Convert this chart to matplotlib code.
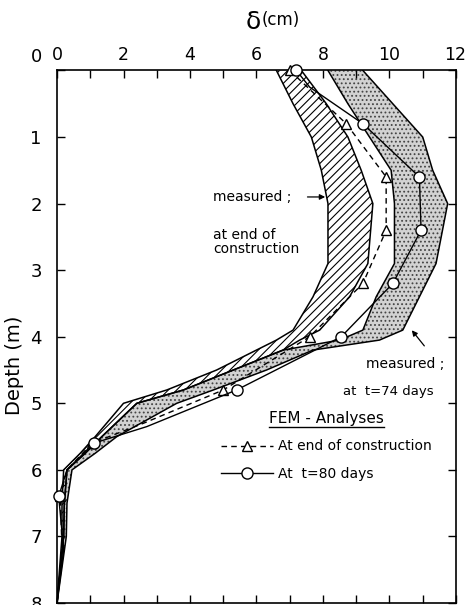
import matplotlib
matplotlib.use("Agg")
import matplotlib.pyplot as plt
from matplotlib.lines import Line2D
from matplotlib.transforms import ScaledTranslation

plt.rcParams['font.family'] = ['DejaVu Sans']
plt.rcParams['hatch.linewidth'] = 0.8

# depth levels (m) for the two measured envelopes
band_depth = [0, 0.5, 1.0, 1.5, 2.0, 2.9, 3.4, 3.9, 4.05, 4.2, 4.5, 4.8, 5.0, 5.5, 5.75, 6.0, 6.5, 7.0, 8.0]

# measured at end of construction (hatched band), min / max deflection (cm)
eoc_min = [6.6, 7.1, 7.65, 7.95, 8.15, 8.15, 7.7, 7.1, 6.6, 6.0, 4.8, 3.3, 2.0, 1.15, 0.7, 0.2, 0.15, 0.15, 0.0]
eoc_max = [7.35, 8.1, 8.75, 9.15, 9.5, 9.35, 8.8, 7.9, 7.3, 6.8, 5.3, 3.8, 2.4, 1.35, 0.85, 0.3, 0.22, 0.2, 0.0]

# measured at t = 74 days (stippled band)
t74_min = [8.15, 8.75, 9.4, 10.05, 10.15, 10.15, 9.6, 9.2, 8.5, 6.8, 5.3, 3.8, 2.4, 1.35, 0.85, 0.3, 0.22, 0.2, 0.0]
t74_max = [9.2, 10.1, 11.0, 11.3, 11.75, 11.4, 10.9, 10.4, 9.7, 7.7, 6.3, 4.7, 3.6, 1.8, 1.15, 0.45, 0.3, 0.28, 0.0]

# FEM analysis, end of construction
fem_eoc_depth = [0, 0.8, 1.6, 2.4, 3.2, 4.0, 4.8, 5.3, 5.6, 6.0, 6.4, 7.2, 8.0]
fem_eoc_x = [7.0, 8.7, 9.9, 9.9, 9.2, 7.6, 5.0, 2.6, 1.05, 0.3, 0.1, 0.15, 0.0]
fem_eoc_marks = [0, 1, 2, 3, 4, 5, 6, 8, 10]

# FEM analysis, t = 80 days
fem_t80_depth = [0, 0.25, 0.8, 1.6, 2.4, 3.2, 4.0, 4.8, 5.35, 5.6, 6.0, 6.4, 7.2, 8.0]
fem_t80_x = [7.2, 7.6, 9.2, 10.9, 10.95, 10.1, 8.55, 5.4, 2.7, 1.1, 0.3, 0.05, 0.2, 0.0]
fem_t80_marks = [0, 2, 3, 4, 5, 6, 7, 9, 11]

fig = plt.figure(figsize=(4.65, 6.05), dpi=100)
ax = fig.add_axes([0.1226, 0.0033, 0.858, 0.8802])

# stippled band (t = 74 days)
ax.fill_betweenx(band_depth, t74_min, t74_max, facecolor='#d2d2d2',
                 edgecolor='#444444', hatch='....', linewidth=0, zorder=1)
ax.plot(t74_min, band_depth, color='black', lw=1.1, zorder=3)
ax.plot(t74_max, band_depth, color='black', lw=1.1, zorder=3)

# hatched band (end of construction)
ax.fill_betweenx(band_depth, eoc_min, eoc_max, facecolor='white',
                 edgecolor='black', hatch='////', linewidth=0, zorder=2)
ax.plot(eoc_min, band_depth, color='black', lw=1.1, zorder=3)
ax.plot(eoc_max, band_depth, color='black', lw=1.1, zorder=3)

l1, = ax.plot(fem_eoc_x, fem_eoc_depth, color='black', lw=1.0, ls=(0, (4, 3)),
              marker='^', ms=7.5, mfc='white', mec='black', mew=1.0,
              markevery=fem_eoc_marks, clip_on=False, zorder=5,
              label='At end of construction')
l2, = ax.plot(fem_t80_x, fem_t80_depth, color='black', lw=1.0,
              marker='o', ms=8, mfc='white', mec='black', mew=1.0,
              markevery=fem_t80_marks, clip_on=False, zorder=5,
              label='At  t=80 days')

ax.set_xlim(0, 12)
ax.set_ylim(8, 0)
ax.xaxis.tick_top()
ax.set_xticks(range(0, 13, 2))
ax.set_xticks(range(0, 13), minor=True)
ax.set_yticks(range(0, 9))
ax.tick_params(axis='both', which='both', direction='in', length=6, width=1.0,
               top=True, bottom=True, left=True, right=True,
               labelsize=12.5, labelbottom=False, labeltop=True)
ax.tick_params(axis='x', pad=5)
ax.tick_params(axis='y', pad=11, labelsize=13)
for sp in ax.spines.values():
    sp.set_linewidth(1.2)

# the "12" label sits at the right edge; keep it inside the figure
ax.get_xticklabels()[-1].set_horizontalalignment('right')
lab12 = ax.get_xticklabels()[-1]
lab12.set_transform(lab12.get_transform() + ScaledTranslation(7 / 72, 0, fig.dpi_scale_trans))

# lift the "0" depth label above the corner
lab0 = ax.get_yticklabels()[0]
lab0.set_transform(lab0.get_transform() + ScaledTranslation(0, 11 / 72, fig.dpi_scale_trans))

fig.text(253 / 465, 1 - 22 / 605, 'δ', fontsize=18, ha='center', va='center')
fig.text(262 / 465, 1 - 20 / 605, '(cm)', fontsize=12, ha='left', va='center')
fig.text(15 / 465, 1 - 365 / 605, 'Depth (m)', fontsize=14, rotation=90,
         ha='center', va='center')

# annotations for the measured envelopes
ax.annotate('', xy=(8.15, 1.9), xytext=(7.45, 1.9),
            arrowprops=dict(arrowstyle='-|>', color='black', lw=0.9, mutation_scale=8))
ax.text(4.7, 1.9, 'measured ;', fontsize=10, ha='left', va='center')
ax.text(4.7, 2.57, 'at end of\nconstruction', fontsize=10, ha='left', va='center',
        linespacing=1.0)

ax.annotate('', xy=(10.62, 3.87), xytext=(11.1, 4.17),
            arrowprops=dict(arrowstyle='-|>', color='black', lw=0.9, mutation_scale=8))
ax.text(9.3, 4.41, 'measured ;', fontsize=10, ha='left', va='center')
ax.text(8.6, 4.83, 'at  t=74 days', fontsize=9.5, ha='left', va='center')

leg = ax.legend(handles=[l1, l2], title='FEM - Analyses', loc='upper left',
                bbox_to_anchor=(0.41, 0.36), frameon=False, fontsize=10,
                title_fontsize=11, handlelength=3.8, handletextpad=0.35,
                labelspacing=0.95, borderpad=0, borderaxespad=0, numpoints=1)

# underline the legend title
fig.canvas.draw()
bb = leg.get_title().get_window_extent()
fig.add_artist(Line2D([bb.x0, bb.x1], [bb.y0 - 1, bb.y0 - 1], transform=None,
                      color='black', lw=1.0))

fig.savefig('out.png', dpi=100)
